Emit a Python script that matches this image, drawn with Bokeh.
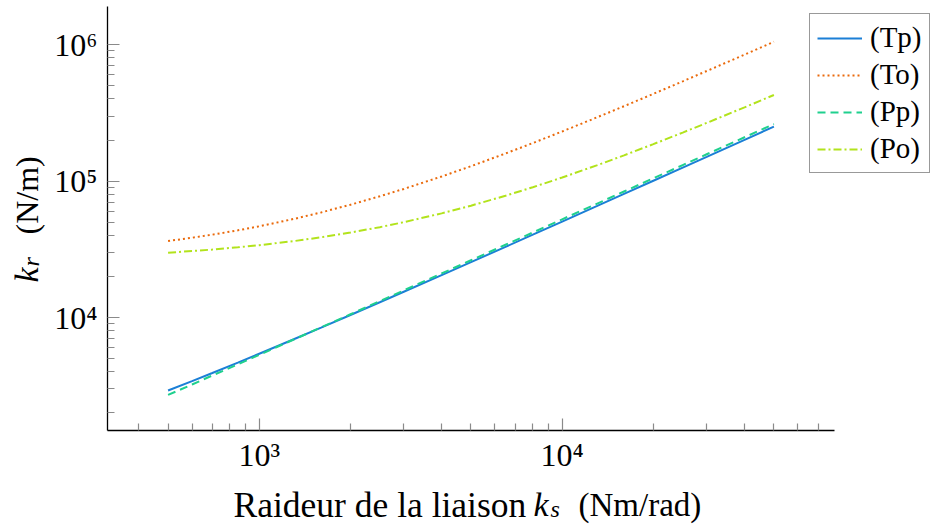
import math
from bokeh.plotting import figure
from bokeh.models import Range1d, FixedTicker, Legend, LegendItem, Label
from bokeh.embed import file_html
from bokeh.resources import INLINE

# ---------------- data ----------------
ks = [500, 600, 700, 850, 1000, 1300, 1600, 2000, 2500, 3000, 4000, 5000,
      6500, 8000, 10000, 13000, 16000, 20000, 25000, 30000, 40000, 50000]
kr_Tp = [2920, 3420, 3920, 4670, 5430, 6930, 8430, 10440, 12940, 15450, 20460, 25470,
         32980, 40500, 50500, 65500, 80600, 100600, 125700, 150700, 200800, 251000]
kr_To = [36400, 38450, 40500, 43580, 46650, 52800, 58950, 67150, 77400, 87650, 108150, 128650,
         159400, 190150, 231150, 292650, 354150, 436150, 538650, 641150, 846150, 1051000]
kr_Pp = [2710, 3230, 3760, 4540, 5330, 6900, 8470, 10570, 13190, 15810, 21050, 26290,
         34150, 42010, 52490, 68210, 83930, 104900, 131100, 157300, 209700, 262000]
kr_Po = [29900, 30700, 31510, 32710, 33920, 36330, 38740, 41960, 45980, 50000, 58040, 66080,
         78140, 90200, 106300, 130400, 154500, 186700, 226900, 267100, 347500, 427900]

series_labels = ["(Tp)", "(To)", "(Pp)", "(Po)"]
series_colors = ["#1b7fd6", "#ea6a0c", "#1fd08e", "#b2e31c"]
series_dashes = ["solid", "2 3", "8 5", "8 3 2 3"]

x_major = [1e3, 1e4]
x_major_labels = ["10³", "10⁴"]
y_major = [1e4, 1e5, 1e6]
y_major_labels = ["10⁴", "10⁵", "10⁶"]

x_title = ["Raideur de la liaison", "k", "s", "(Nm/rad)"]
y_title = ["k", "r", "(N/m)"]

FONT = "Liberation Serif"

# ---------------- geometry ----------------
W, H = 933, 524
AX_L, AX_R, AX_T, AX_B = 107, 834, 6, 430          # axes box in canvas pixels
LX0, LX1 = 2.499, 4.899                             # log10 x limits of the axes box
LY0, LY1 = 3.172, 6.280                             # log10 y limits of the axes box
dx = (AX_R - AX_L) / (LX1 - LX0)
dy = (AX_B - AX_T) / (LY1 - LY0)
x_lo, x_hi = 10 ** LX0, 10 ** LX1
y_lo, y_hi = 10 ** LY0, 10 ** LY1

# frame spans the whole canvas; axes are drawn at fixed locations
p = figure(width=W, height=H, x_axis_type="log", y_axis_type="log",
           x_range=Range1d(10 ** (LX0 - AX_L / dx), 10 ** (LX1 + (W - AX_R) / dx)),
           y_range=Range1d(10 ** (LY0 - (H - AX_B) / dy), 10 ** (LY1 + AX_T / dy)),
           output_backend="svg", toolbar_location=None,
           min_border_left=0, min_border_right=0, min_border_top=0, min_border_bottom=0)
p.outline_line_color = None
p.grid.visible = False
p.background_fill_color = "white"
p.border_fill_color = "white"

renderers = []
for ys, col, dash in zip([kr_Tp, kr_To, kr_Pp, kr_Po], series_colors, series_dashes):
    r = p.line(ks, ys, line_color=col, line_width=2, line_dash=dash)
    renderers.append(r)

def minors(lo, hi):
    out = []
    for e in range(int(math.floor(math.log10(lo))), int(math.ceil(math.log10(hi))) + 1):
        for m in range(2, 10):
            v = m * 10 ** e
            if lo <= v <= hi:
                out.append(v)
    return out

p.xaxis.ticker = FixedTicker(ticks=x_major, minor_ticks=minors(x_lo, x_hi))
p.yaxis.ticker = FixedTicker(ticks=y_major, minor_ticks=minors(y_lo, y_hi))
p.xaxis.major_label_overrides = {v: s for v, s in zip(x_major, x_major_labels)}
p.yaxis.major_label_overrides = {v: s for v, s in zip(y_major, y_major_labels)}
p.xaxis.fixed_location = y_lo
p.yaxis.fixed_location = x_lo
p.xaxis.bounds = (x_lo, x_hi)
p.yaxis.bounds = (y_lo, y_hi)

for ax in (p.xaxis, p.yaxis):
    ax.axis_line_color = "black"
    ax.axis_line_width = 1.3
    ax.major_tick_in = 12
    ax.major_tick_out = 0
    ax.minor_tick_in = 7
    ax.minor_tick_out = 0
    ax.major_tick_line_color = "#8a8a8a"
    ax.minor_tick_line_color = "#8a8a8a"
    ax.major_tick_line_width = 1.2
    ax.minor_tick_line_width = 1.2
    ax.major_label_text_font = FONT
    ax.major_label_text_font_size = "32px"
    ax.major_label_text_color = "black"
p.xaxis.major_label_standoff = 6
p.yaxis.major_label_standoff = 10

# axis titles as text pieces (italic k with subscript); screen coords, y from bottom
OFF = 14  # empirical shift of the alphabetic baseline of Label texts
def lab(x, y, text, size, style="normal", angle=0.0):
    if angle:
        x -= OFF
    else:
        y -= OFF
    p.add_layout(Label(x=x, y=H - y, x_units="screen", y_units="screen", text=text,
                       text_font=FONT, text_font_size=size, text_font_style=style,
                       text_color="black", text_align="left", text_baseline="alphabetic",
                       angle=angle))

lab(233, 518, x_title[0], "35.5px")
lab(533, 518, x_title[1], "34px", "italic")
lab(550, 522, x_title[2], "24px", "italic")
lab(578, 518, x_title[3], "33px")

lab(40, 282, y_title[0], "34px", "italic", math.pi / 2)
lab(44, 266, y_title[1], "24px", "italic", math.pi / 2)
lab(40, 234, y_title[2], "32px", "normal", math.pi / 2)

legend = Legend(items=[LegendItem(label=l, renderers=[r]) for l, r in zip(series_labels, renderers)],
                location=(809, H - 173), margin=0, padding=7, spacing=4,
                glyph_width=45, glyph_height=30, label_height=30, label_standoff=8,
                label_text_font=FONT, label_text_font_size="29px", label_text_color="black",
                border_line_color="#333333", border_line_width=1,
                background_fill_color="white", background_fill_alpha=1)
p.add_layout(legend)

open("out.html", "w").write(file_html(p, INLINE))
